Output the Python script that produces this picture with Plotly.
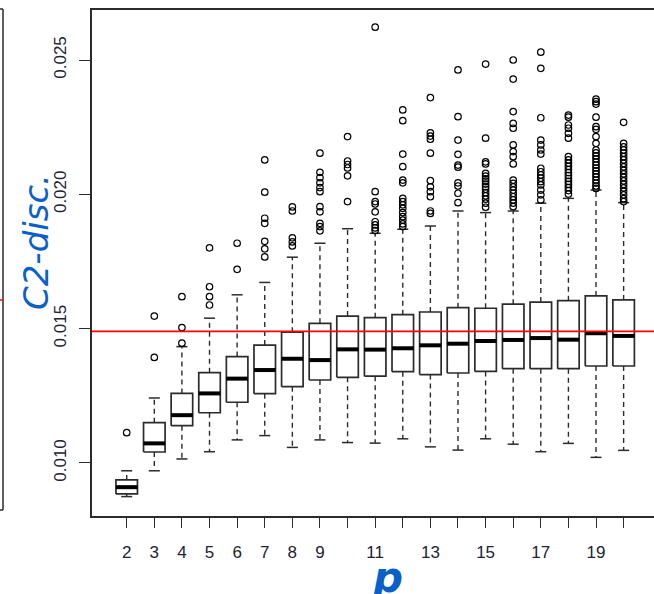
import plotly.graph_objects as go

# ---------------- data ----------------
p = list(range(2, 21))
lower_whisker = [0.00875, 0.00971, 0.01015, 0.01042, 0.01086, 0.01102, 0.01058, 0.01086, 0.01076, 0.01074,
                 0.01090, 0.01060, 0.01048, 0.01090, 0.01070, 0.01042, 0.01073, 0.01021, 0.01047]
q1 = [0.00885, 0.01041, 0.01139, 0.01187, 0.01226, 0.01258, 0.01284, 0.01309, 0.01319, 0.01323,
      0.01340, 0.01329, 0.01335, 0.01341, 0.01351, 0.01351, 0.01351, 0.01361, 0.01361]
median = [0.00910, 0.01073, 0.01178, 0.01259, 0.01314, 0.01346, 0.01388, 0.01383, 0.01423, 0.01422,
          0.01427, 0.01438, 0.01444, 0.01454, 0.01458, 0.01465, 0.01459, 0.01483, 0.01473]
q3 = [0.00937, 0.01150, 0.01259, 0.01336, 0.01396, 0.01439, 0.01487, 0.01520, 0.01547, 0.01541,
      0.01552, 0.01562, 0.01578, 0.01576, 0.01591, 0.01599, 0.01604, 0.01622, 0.01607]
upper_whisker = [0.00971, 0.01242, 0.01433, 0.01539, 0.01626, 0.01672, 0.01766, 0.01818, 0.01872, 0.01855,
                 0.01870, 0.01882, 0.01938, 0.01932, 0.01938, 0.01967, 0.01985, 0.02016, 0.01969]
outliers = [
    [0.01113],
    [0.01393, 0.01547],
    [0.01446, 0.01504, 0.01619],
    [0.01588, 0.01619, 0.01656, 0.01801],
    [0.01721, 0.01818],
    [0.01767, 0.01797, 0.01825, 0.01892, 0.01911, 0.02008, 0.02128],
    [0.01808, 0.01823, 0.01838, 0.01938, 0.01953],
    [0.01864, 0.01880, 0.01892, 0.01935, 0.01954, 0.02010, 0.02025, 0.02043, 0.02062, 0.02082, 0.02153],
    [0.01973, 0.02069, 0.02098, 0.02111, 0.02124, 0.02215],
    [0.01865, 0.01875, 0.01886, 0.01898, 0.01935, 0.01964, 0.01973, 0.02010, 0.02622],
    [0.01880, 0.01890, 0.01904, 0.01917, 0.01932, 0.01948, 0.01961, 0.01973, 0.01985, 0.02043, 0.02053,
     0.02103, 0.02150, 0.02274, 0.02314],
    [0.01929, 0.01938, 0.01991, 0.02010, 0.02028, 0.02051, 0.02153, 0.02205, 0.02217, 0.02229, 0.02360],
    [0.01969, 0.02004, 0.02031, 0.02043, 0.02101, 0.02109, 0.02149, 0.02202, 0.02289, 0.02463],
    [0.01952, 0.01967, 0.01982, 0.01994, 0.02006, 0.02019, 0.02028, 0.02038, 0.02049, 0.02058, 0.02068,
     0.02078, 0.02113, 0.02121, 0.02209, 0.02485],
    [0.01954, 0.01967, 0.01979, 0.01991, 0.02004, 0.02016, 0.02028, 0.02041, 0.02053, 0.02113, 0.02140,
     0.02159, 0.02184, 0.02246, 0.02264, 0.02308, 0.02429, 0.02500],
    [0.01979, 0.01998, 0.02016, 0.02035, 0.02047, 0.02060, 0.02072, 0.02084, 0.02097, 0.02150, 0.02165,
     0.02184, 0.02202, 0.02285, 0.02469, 0.02529],
    [0.02001, 0.02014, 0.02025, 0.02037, 0.02048, 0.02059, 0.02070, 0.02081, 0.02092, 0.02104, 0.02116,
     0.02128, 0.02140, 0.02209, 0.02227, 0.02246, 0.02258, 0.02287, 0.02295],
    [0.02022, 0.02031, 0.02042, 0.02053, 0.02065, 0.02076, 0.02087, 0.02098, 0.02109, 0.02120, 0.02132,
     0.02143, 0.02154, 0.02165, 0.02190, 0.02215, 0.02242, 0.02252, 0.02287, 0.02336, 0.02345, 0.02354],
    [0.01973, 0.01984, 0.01998, 0.02011, 0.02024, 0.02037, 0.02050, 0.02063, 0.02076, 0.02089, 0.02102,
     0.02115, 0.02128, 0.02140, 0.02153, 0.02165, 0.02177, 0.02190, 0.02268],
]
reference_level = 0.0149
y_tick_vals = [0.010, 0.015, 0.020, 0.025]
y_tick_text = ["0.010", "0.015", "0.020", "0.025"]
x_tick_text = ["2", "3", "4", "5", "6", "7", "8", "9", "", "11", "", "13", "", "15", "", "17", "", "19", ""]

# ---------------- geometry / style ----------------
W, H = 654, 594
ML, MR, MT, MB = 92, 0, 10, 78
BOX_HALF = 0.39
CAP_HALF = 0.2
LINE = "#2b2b2b"
BLUE = "#0a5fc8"

def px_x(px):
    return (px - ML) / (W - ML - MR)

def px_y(py):
    return (H - MB - py) / (H - MT - MB)

bx, by, mx, my, wx, wy, cx, cy = [], [], [], [], [], [], [], []
for i, x in enumerate(p):
    bx += [x - BOX_HALF, x + BOX_HALF, x + BOX_HALF, x - BOX_HALF, x - BOX_HALF, None]
    by += [q1[i], q1[i], q3[i], q3[i], q1[i], None]
    mx += [x - BOX_HALF, x + BOX_HALF, None]
    my += [median[i], median[i], None]
    wx += [x, x, None, x, x, None]
    wy += [q3[i], upper_whisker[i], None, q1[i], lower_whisker[i], None]
    cx += [x - CAP_HALF, x + CAP_HALF, None, x - CAP_HALF, x + CAP_HALF, None]
    cy += [upper_whisker[i], upper_whisker[i], None, lower_whisker[i], lower_whisker[i], None]

ox, oy = [], []
for i, x in enumerate(p):
    for v in outliers[i]:
        ox.append(x)
        oy.append(v)

fig = go.Figure()
fig.add_trace(go.Scatter(x=wx, y=wy, mode="lines", line=dict(color=LINE, width=1.4, dash="5px,4px"),
                         hoverinfo="skip", showlegend=False))
fig.add_trace(go.Scatter(x=cx, y=cy, mode="lines", line=dict(color=LINE, width=1.5),
                         hoverinfo="skip", showlegend=False))
fig.add_trace(go.Scatter(x=bx, y=by, mode="lines", line=dict(color=LINE, width=1.7),
                         hoverinfo="skip", showlegend=False))
fig.add_trace(go.Scatter(x=mx, y=my, mode="lines", line=dict(color="black", width=4),
                         hoverinfo="skip", showlegend=False))
fig.add_trace(go.Scatter(x=ox, y=oy, mode="markers",
                         marker=dict(symbol="circle-open", size=6.5, color="black", line=dict(width=1.2)),
                         hoverinfo="skip", showlegend=False))

# red reference line
fig.add_shape(type="line", xref="paper", x0=0, x1=1, yref="y", y0=reference_level, y1=reference_level,
              line=dict(color="#ff0000", width=1.6), layer="above")

# remnants of the neighbouring panel at the far left
for (x0, y0, x1, y1, col) in [(0, 9, 3, 9, LINE), (3, 9, 3, 510, LINE), (0, 510, 3, 510, LINE),
                              (0, 300, 2.5, 300, "#ff0000")]:
    fig.add_shape(type="line", xref="paper", yref="paper", x0=px_x(x0), x1=px_x(x1),
                  y0=px_y(y0), y1=px_y(y1), line=dict(color=col, width=1.5), layer="above")

fig.add_annotation(text="C2-disc.", xref="paper", yref="paper", x=px_x(36), y=px_y(242),
                   xanchor="center", yanchor="middle", textangle=-90, showarrow=False,
                   font=dict(family="DejaVu Sans", size=34, color=BLUE, style="italic"))
fig.add_annotation(text="<b>p</b>", xref="paper", yref="paper", x=px_x(387), y=px_y(577),
                   xanchor="center", yanchor="middle", showarrow=False,
                   font=dict(family="DejaVu Sans", size=42, color=BLUE, style="italic"))

tick_font = dict(family="Liberation Sans, Arial", size=17, color="#222233")
fig.update_layout(
    width=W, height=H, margin=dict(l=ML, r=MR, t=MT, b=MB, pad=0),
    paper_bgcolor="white", plot_bgcolor="white",
    xaxis=dict(range=[0.743, 21.10], tickmode="array", tickvals=p, ticktext=x_tick_text,
               ticks="outside", ticklen=10, tickwidth=1.4, tickcolor=LINE,
               showline=True, linecolor=LINE, linewidth=1.5, mirror=True,
               showgrid=False, zeroline=False, tickfont=tick_font, ticklabelstandoff=10),
    yaxis=dict(range=[0.008027, 0.026861], tickmode="array", tickvals=y_tick_vals, ticktext=y_tick_text,
               ticks="outside", ticklen=11, tickwidth=1.4, tickcolor=LINE, tickangle=-90,
               showline=True, linecolor=LINE, linewidth=1.5,
               showgrid=False, zeroline=False, tickfont=tick_font, ticklabelstandoff=6),
)

fig.write_html("out.html")
